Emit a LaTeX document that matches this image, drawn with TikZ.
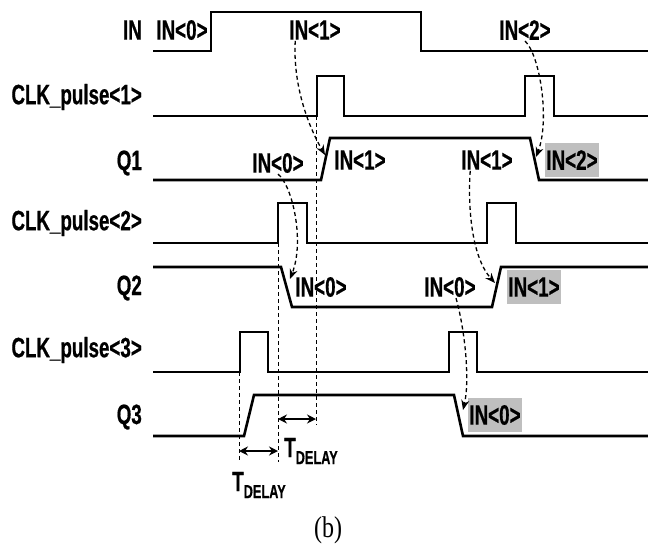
\documentclass[tikz,border=0pt]{standalone}
\usepackage{fontspec}
\setmainfont{Liberation Serif}
\newfontfamily\sigfont[FakeStretch=0.67, FakeBold=0.6]{Liberation Sans Bold}
\newfontfamily\capfont[FakeStretch=0.8]{Liberation Serif}
\usetikzlibrary{arrows.meta, positioning}
\newcommand{\tdelay}{T\raisebox{-7pt}{\fontsize{19}{19}\selectfont DELAY}}

\begin{document}
\begin{tikzpicture}[x=1pt, y=-1pt,
        wave/.style={line width=2.6pt, line join=miter},
        rowname/.style={anchor=east, inner sep=0pt, font=\sigfont\fontsize{28}{28}\selectfont},
        val/.style={inner sep=1pt, font=\sigfont\fontsize{28}{28}\selectfont},
        latched/.style={val, fill=black!25, inner xsep=1pt, minimum height=34pt},
        guide/.style={line width=0.9pt, dash pattern=on 4pt off 3pt},
        flow/.style={line width=1.3pt, dash pattern=on 4pt off 3pt, -{Stealth[length=10pt, width=8pt]}},
        span/.style={line width=1.8pt, {Stealth[length=9pt, width=9pt]}-{Stealth[length=9pt, width=9pt]}}
    ]
        \useasboundingbox (0,0) rectangle (648,550);
        % signal names
        \node[rowname] (inname) at (142,30) {IN};
        \node[rowname] (clkone) at (142,97) {CLK\_pulse<1>};
        \node[rowname] (qone) at (142,163) {Q1};
        \node[rowname] (clktwo) at (142,223) {CLK\_pulse<2>};
        \node[rowname] (qtwo) at (142,288) {Q2};
        \node[rowname] (clkthree) at (142,350) {CLK\_pulse<3>};
        \node[rowname] (qthree) at (142,417) {Q3};
        % waveforms
        \draw[wave] (153,51) -- (211,51) -- (211,12) -- (421,12) -- (421,51) -- (648,51);
        \draw[wave] (153,116) -- (317,116) -- (317,76) -- (344,76) -- (344,116) -- (525,116) -- (525,76) -- (554,76) -- (554,116) -- (648,116);
        \draw[wave] (153,180) -- (321,180) -- (330,138) -- (530,138) -- (539,180) -- (648,180);
        \draw[wave] (153,243) -- (278,243) -- (278,203) -- (307,203) -- (307,243) -- (487,243) -- (487,203) -- (516,203) -- (516,243) -- (648,243);
        \draw[wave] (153,267) -- (281,267) -- (292,307) -- (492,307) -- (501,267) -- (648,267);
        \draw[wave] (153,372) -- (240,372) -- (240,332) -- (268,332) -- (268,372) -- (449,372) -- (449,332) -- (477,332) -- (477,372) -- (648,372);
        \draw[wave] (153,436) -- (244,436) -- (254,395) -- (454,395) -- (463,436) -- (648,436);
        % data values
        \node[val] (inzero) at (182,30) {IN<0>};
        \node[val] (inone) at (315,30) {IN<1>};
        \node[val] (intwo) at (525,30) {IN<2>};
        \node[val] (qonezero) at (278,163) {IN<0>};
        \node[val] (qoneone) at (360,160) {IN<1>};
        \node[val] (qoneold) at (487,160) {IN<1>};
        \node[latched] (qonetwo) at (572,160) {IN<2>};
        \node[val] (qtwozero) at (321,287) {IN<0>};
        \node[val] (qtwoold) at (450,287) {IN<0>};
        \node[latched] (qtwoone) at (534,287) {IN<1>};
        \node[latched] (qthreezero) at (495,415) {IN<0>};
        % clock edges and where they end
        \coordinate (edgeone) at (316,116);
        \coordinate (edgetwo) at (278,243);
        \coordinate (edgethree) at (239,372);
        \coordinate (footone) at (316,425);
        \coordinate (foottwo) at (278,462);
        \coordinate (footthree) at (239,462);
        \draw[guide] (edgeone) -- (footone);
        \draw[guide] (edgetwo) -- (foottwo);
        \draw[guide] (edgethree) -- (footthree);
        % sampled values
        \coordinate (hitqone) at (325,155);
        \coordinate (hitqonetwo) at (536,157);
        \coordinate (hitqtwo) at (290,279);
        \coordinate (hitqtwoone) at (495,283);
        \coordinate (hitqthree) at (463,410);
        \draw[flow] (inone.south west) ++(7,0) .. controls (293,80) and (305,120) .. (hitqone);
        \draw[flow] (intwo.south) .. controls (540,55) and (550,120) .. (hitqonetwo);
        \draw[flow] (qonezero.south) .. controls (292,185) and (305,240) .. (hitqtwo);
        \draw[flow] (qoneold.south west) ++(10,0) .. controls (468,200) and (470,255) .. (hitqtwoone);
        \draw[flow] (qtwoold.south) ++(6,0) .. controls (465,330) and (470,380) .. (hitqthree);
        % delays
        \coordinate (delayonea) at (239,451);
        \coordinate (delayoneb) at (278,451);
        \coordinate (delaytwoa) at (278,419);
        \coordinate (delaytwob) at (316,419);
        \draw[span] (delayonea) -- (delayoneb);
        \draw[span] (delaytwoa) -- (delaytwob);
        \node[inner sep=0pt, font=\sigfont\fontsize{28}{28}\selectfont] (tdone) at (259,485) {\tdelay};
        \node[inner sep=0pt, font=\sigfont\fontsize{28}{28}\selectfont] (tdtwo) at (311,451) {\tdelay};
        \node[font=\capfont\fontsize{30}{30}\selectfont] (caption) at (328,530) {(b)};
    \end{tikzpicture}
\end{document}
